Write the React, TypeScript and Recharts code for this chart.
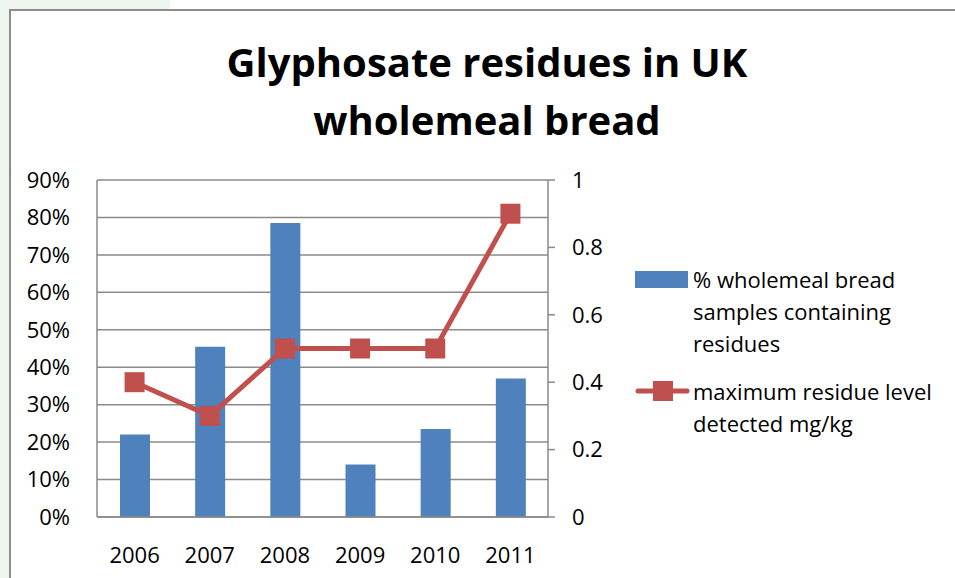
import React from "react";
import {
  ComposedChart,
  Bar,
  Line,
  XAxis,
  YAxis,
  CartesianGrid,
} from "recharts";

const years = ["2006", "2007", "2008", "2009", "2010", "2011"];
// % of wholemeal bread samples containing residues
const pctSamples = [22, 45.5, 78.5, 14, 23.5, 37];
// maximum residue level detected, mg/kg
const maxResidue = [0.4, 0.3, 0.5, 0.5, 0.5, 0.9];

const leftTicks = [0, 10, 20, 30, 40, 50, 60, 70, 80, 90];
const rightTicks = [0, 0.2, 0.4, 0.6, 0.8, 1];

const barName = "% wholemeal bread samples containing residues";
const lineName = "maximum residue level detected mg/kg";

const data = years.map((y, i) => ({
  year: y,
  pct: pctSamples[i],
  residue: maxResidue[i],
}));

const BLUE = "#4F81BD";
const RED = "#C0504D";
const GRID = "#8a8a8a";
const FONT = "'Open Sans', sans-serif";

const SquareDot = (props: any) => {
  const { cx, cy } = props;
  if (cx == null || cy == null) return null;
  return <rect x={cx - 10} y={cy - 10} width={20} height={20} fill={RED} />;
};

const tickStyle = { fill: "#000", fontSize: 22, fontFamily: FONT };

const App = () => {
  return (
    <div
      style={{
        position: "absolute",
        left: 0,
        top: 0,
        width: 955,
        height: 578,
        overflow: "hidden",
        background: "#fff",
        fontFamily: FONT,
      }}
    >
      {/* faint green page bits behind the chart frame */}
      <div style={{ position: "absolute", left: 0, top: 0, width: 9, height: 578, background: "#eef6ef" }} />
      <div style={{ position: "absolute", left: 0, top: 0, width: 170, height: 9, background: "#eef6ef" }} />
      <div
        style={{
          position: "absolute",
          left: 9,
          top: 9,
          width: 960,
          height: 600,
          border: "2px solid #8c8c8c",
          boxSizing: "border-box",
        }}
      />

      <div
        style={{
          position: "absolute",
          left: 0,
          top: 33,
          width: 974,
          textAlign: "center",
          fontWeight: 700,
          fontSize: 40,
          lineHeight: "58px",
          color: "#000",
        }}
      >
        Glyphosate residues in UK
        <br />
        wholemeal bread
      </div>

      <div style={{ position: "absolute", left: 0, top: 0 }}>
        <ComposedChart
          width={955}
          height={578}
          data={data}
          margin={{ top: 180, right: 357, left: 30, bottom: 21 }}
          barSize={30}
        >
          <CartesianGrid yAxisId="left" vertical={false} stroke={GRID} strokeWidth={1.5} />
          <XAxis
            dataKey="year"
            height={40}
            axisLine={{ stroke: GRID, strokeWidth: 1.5 }}
            tickLine={false}
            tickSize={0}
            tickMargin={30}
            tick={tickStyle}
          />
          <YAxis
            yAxisId="left"
            width={67}
            domain={[0, 90]}
            ticks={leftTicks}
            tickFormatter={(v) => `${v}%`}
            axisLine={{ stroke: GRID, strokeWidth: 1.5 }}
            tickLine={false}
            tickSize={0}
            tickMargin={27}
            tick={tickStyle}
            interval={0}
          />
          <YAxis
            yAxisId="right"
            orientation="right"
            width={50}
            domain={[0, 1]}
            ticks={rightTicks}
            tickFormatter={(v) => `${v}`}
            axisLine={{ stroke: GRID, strokeWidth: 1.5 }}
            tickLine={{ stroke: GRID, strokeWidth: 1.5 }}
            tickSize={7}
            tickMargin={17}
            tick={{ ...tickStyle, textAnchor: "start" }}
            interval={0}
          />
          <Bar yAxisId="left" dataKey="pct" name={barName} fill={BLUE} isAnimationActive={false} />
          <Line
            yAxisId="right"
            type="linear"
            dataKey="residue"
            name={lineName}
            stroke={RED}
            strokeWidth={5}
            dot={<SquareDot />}
            activeDot={false}
            isAnimationActive={false}
          />
        </ComposedChart>
      </div>

      {/* legend */}
      <div style={{ position: "absolute", left: 635, top: 263, width: 310, fontSize: 22, lineHeight: "32px", color: "#000" }}>
        <div style={{ display: "flex", alignItems: "flex-start" }}>
          <div style={{ width: 53, height: 17, background: BLUE, marginTop: 8, flexShrink: 0 }} />
          <div style={{ marginLeft: 5, width: 250 }}>{barName}</div>
        </div>
        <div style={{ display: "flex", alignItems: "flex-start", marginTop: 16 }}>
          <svg width={55} height={32} style={{ flexShrink: 0 }}>
            <line x1={3} y1={16} x2={52} y2={16} stroke={RED} strokeWidth={5} strokeLinecap="round" />
            <rect x={18} y={6} width={20} height={20} fill={RED} />
          </svg>
          <div style={{ marginLeft: 3, width: 257 }}>{lineName}</div>
        </div>
      </div>
    </div>
  );
};

export default App;
